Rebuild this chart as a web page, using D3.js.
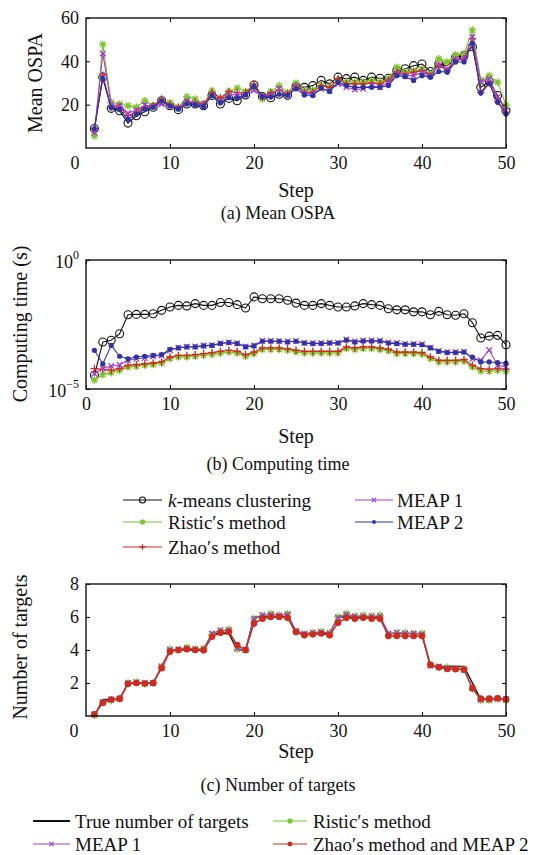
<!DOCTYPE html>
<html>
<head>
<meta charset="utf-8">
<script src="https://cdn.jsdelivr.net/npm/d3@7"></script>
<style>
  html, body { margin: 0; padding: 0; background: #fff; }
  svg text { font-family: "Liberation Serif", "Times New Roman", serif; fill: #111; }
</style>
</head>
<body>
<svg id="fig" width="556" height="855"></svg>
<script>
// ---- data -------------------------------------------------------------
const steps = [1,2,3,4,5,6,7,8,9,10,11,12,13,14,15,16,17,18,19,20,21,22,23,24,25,
               26,27,28,29,30,31,32,33,34,35,36,37,38,39,40,41,42,43,44,45,46,47,48,49,50];
const xTicks = [10, 20, 30, 40, 50];

// (a) mean OSPA
const ospaKmeans = [9.0,32.7,18.3,17.2,11.5,14.9,16.7,18.8,21.8,19.5,17.7,20.3,20.3,19.5,24.3,20.3,22.9,21.8,24.5,29.1,
  23.7,23.2,24.8,24.3,28.4,28.0,28.8,31.2,29.6,32.7,32.0,32.7,31.2,32.7,32.2,32.2,35.7,36.6,38.0,38.8,
  35.3,38.8,38.0,41.9,42.7,46.7,28.0,30.7,24.2,17.2];
const ospaRistic = [5.6,47.8,21.0,20.3,19.5,18.8,21.8,19.5,21.5,21.0,18.8,23.7,22.6,20.3,26.5,22.6,26.1,27.6,26.1,27.6,
  22.6,26.1,28.8,25.6,30.0,26.5,26.8,28.8,28.0,31.2,30.4,30.4,30.4,31.2,30.4,31.9,37.3,35.0,35.7,36.4,
  34.2,41.2,39.7,43.0,43.5,54.4,31.4,33.4,30.4,19.8];
const ospaZhao = [9.0,33.5,19.0,18.8,14.9,16.7,19.0,19.5,22.6,20.0,18.8,21.0,21.0,20.3,25.7,23.2,26.1,25.6,25.6,29.6,
  23.7,25.5,26.8,25.0,28.5,25.7,25.7,28.8,28.0,31.9,29.6,29.6,29.6,30.0,29.6,31.2,35.0,34.2,35.0,35.7,
  33.4,38.2,35.7,40.4,41.2,50.5,25.7,30.4,21.5,16.5];
const ospaMeap1 = [7.0,43.6,20.0,19.5,16.1,17.4,19.8,19.2,20.2,19.2,18.5,21.8,20.3,19.8,24.6,21.8,24.3,24.8,24.5,26.5,
  23.7,24.5,27.3,24.5,28.5,25.4,25.0,27.3,26.5,29.6,28.0,27.0,27.3,28.8,28.0,30.4,34.2,33.4,33.4,35.0,
  33.4,38.2,36.4,41.2,41.2,51.3,30.5,31.9,23.5,17.2];
const ospaMeap2 = [9.0,32.2,18.6,17.7,13.3,15.5,17.9,18.8,21.8,19.5,17.9,20.3,20.0,19.2,24.3,20.8,23.2,23.2,24.5,28.4,
  23.7,23.5,24.8,24.3,27.3,24.5,24.2,27.6,26.1,30.4,28.8,28.0,28.0,28.0,28.0,28.8,33.4,32.9,31.2,33.4,
  32.7,35.3,35.0,39.7,39.7,48.2,25.4,29.6,21.1,15.7];
const ospaTicks = [20, 40, 60];

// (b) computing time in seconds
const timeKmeans = [3.4e-5,6.6e-4,7.8e-4,1.38e-3,7.6e-3,7.8e-3,7.8e-3,8.3e-3,1.12e-2,1.51e-2,
  1.74e-2,1.66e-2,2.04e-2,1.74e-2,1.74e-2,2.24e-2,2.24e-2,1.86e-2,1.38e-2,3.72e-2,
  3.16e-2,3.16e-2,3.16e-2,2.75e-2,2.14e-2,1.74e-2,1.74e-2,2.04e-2,1.74e-2,1.51e-2,
  1.51e-2,1.66e-2,2.04e-2,1.86e-2,1.74e-2,1.29e-2,1.17e-2,1.17e-2,9.8e-3,9.8e-3,
  7.6e-3,1.02e-2,7.6e-3,7.2e-3,8.3e-3,3.7e-3,9.5e-4,1.12e-3,1.2e-3,5.2e-4];
const timeRistic = [2.2e-5,3.6e-5,4.3e-5,5.25e-5,7.1e-5,7.6e-5,8.3e-5,8.9e-5,1.0e-4,1.51e-4,
  1.74e-4,1.74e-4,1.86e-4,2.0e-4,2.2e-4,2.45e-4,2.69e-4,2.45e-4,1.86e-4,2.34e-4,
  3.4e-4,3.4e-4,3.4e-4,3.16e-4,2.75e-4,2.5e-4,2.45e-4,2.5e-4,2.45e-4,2.5e-4,
  3.7e-4,3.4e-4,3.7e-4,3.7e-4,3.4e-4,3.0e-4,2.34e-4,2.34e-4,2.34e-4,2.24e-4,
  1.51e-4,1.12e-4,1.12e-4,1.12e-4,1.2e-4,7.1e-5,5.0e-5,4.8e-5,5.25e-5,4.8e-5];
const timeZhao = [6.2e-5,5.75e-5,5.25e-5,6.2e-5,8.3e-5,8.7e-5,9.5e-5,1.02e-4,1.12e-4,1.74e-4,
  2.0e-4,2.0e-4,2.14e-4,2.34e-4,2.57e-4,2.88e-4,3.16e-4,2.88e-4,2.14e-4,2.69e-4,
  3.9e-4,3.9e-4,3.9e-4,3.63e-4,3.16e-4,2.88e-4,2.88e-4,2.88e-4,2.88e-4,2.88e-4,
  4.27e-4,3.9e-4,4.27e-4,4.27e-4,3.9e-4,3.47e-4,2.69e-4,2.69e-4,2.69e-4,2.57e-4,
  1.74e-4,1.29e-4,1.29e-4,1.29e-4,1.38e-4,8.3e-5,6.2e-5,5.75e-5,6.2e-5,5.75e-5];
const timeMeap1 = [3.9e-5,6.2e-5,7.8e-5,8.7e-5,1.29e-4,1.48e-4,1.58e-4,1.86e-4,2.0e-4,3.16e-4,
  4.0e-4,4.3e-4,4.4e-4,4.8e-4,5.0e-4,5.9e-4,6.4e-4,5.9e-4,4.4e-4,4.9e-4,
  7.4e-4,7.4e-4,7.3e-4,6.9e-4,7.3e-4,6.2e-4,6.0e-4,6.0e-4,6.2e-4,6.2e-4,
  8.3e-4,7.0e-4,7.6e-4,7.6e-4,7.5e-4,6.3e-4,6.0e-4,5.6e-4,5.6e-4,5.4e-4,
  4.0e-4,3.0e-4,2.7e-4,2.7e-4,2.8e-4,1.48e-4,1.29e-4,3.24e-4,8.3e-5,7.2e-5];
const timeMeap2 = [3.16e-4,9.5e-5,4.9e-4,1.86e-4,1.48e-4,1.74e-4,1.86e-4,2.0e-4,2.14e-4,3.47e-4,
  3.9e-4,4.27e-4,4.27e-4,4.68e-4,4.9e-4,5.75e-4,6.3e-4,5.75e-4,4.27e-4,4.68e-4,
  7.1e-4,7.1e-4,7.1e-4,6.6e-4,7.1e-4,6.0e-4,5.75e-4,5.75e-4,6.0e-4,6.0e-4,
  7.8e-4,6.6e-4,7.2e-4,7.2e-4,7.2e-4,6.0e-4,5.75e-4,5.4e-4,5.4e-4,5.2e-4,
  3.9e-4,2.88e-4,2.57e-4,2.57e-4,2.69e-4,1.74e-4,1.12e-4,1.12e-4,1.05e-4,1.02e-4];
const timeTicks = [1e-5, 1];

// (c) number of targets
const trueCount = [0,1,1,1,2,2,2,2,3,4,4,4,4,4,5,5,5,4,4,6,6,6,6,6,5,5,5,5,5,6,6,6,6,6,6,5,5,5,5,5,3,3,3,3,3,2,1,1,1,1];
const countRistic = [0.05,0.8,0.95,1.05,2.0,2.05,1.95,2.0,3.0,4.05,4.0,4.15,4.05,4.1,4.95,5.15,5.25,4.05,4.0,5.9,
  6.1,6.2,6.1,6.2,5.1,4.95,5.05,5.1,5.05,6.0,6.2,6.05,6.1,6.05,6.1,4.95,5.05,5.05,5.0,5.0,
  3.1,2.95,2.95,2.85,2.85,1.65,0.95,0.95,1.05,0.95];
const countMeap1 = [0.1,0.85,1.0,1.05,2.0,2.05,2.0,2.0,3.0,4.0,4.05,4.1,4.05,4.05,5.0,5.2,5.2,4.1,4.0,5.9,
  6.1,6.15,6.1,6.15,5.15,5.0,5.05,5.1,5.0,5.95,6.15,6.05,6.05,6.05,6.05,5.0,5.05,5.0,5.0,4.95,
  3.05,3.0,2.9,2.9,2.8,1.7,1.0,1.0,1.05,1.0];
const countZhaoMeap2 = [0.1,0.8,1.0,1.05,1.95,2.0,1.97,2.0,2.9,3.9,4.0,4.05,4.0,3.98,4.8,5.05,5.1,4.3,4.0,5.6,
  5.9,6.0,6.0,5.95,5.1,4.9,4.95,5.0,4.9,5.65,5.95,5.9,5.95,5.9,5.9,4.85,4.85,4.85,4.85,4.85,
  3.1,2.95,2.85,2.85,2.8,1.68,1.05,1.05,1.07,1.02];
const countTicks = [2, 4, 6, 8];

// ---- styles -------------------------------------------------------------
const C = { black: "#111111", green: "#7cc42a", red: "#cf2a1e", purple: "#a23fcb", blue: "#2d34a6" };
const SERIF = "Liberation Serif, Times New Roman, serif";
const FONT_TICK = 18, FONT_LABEL = 20, FONT_CAP = 18, FONT_LEG = 19;

const svg = d3.select("#fig");

// marker drawers: g is a selection of <g> already translated to the point
function drawMarker(g, kind, color, s) {
  s = s || 1;
  if (kind === "circle") {
    g.append("circle").attr("r", 4 * s).attr("fill", "none").attr("stroke", color).attr("stroke-width", 1.1);
  } else if (kind === "dot") {
    g.append("circle").attr("r", 2.6 * s).attr("fill", color).attr("stroke", "none");
  } else if (kind === "bigdot") {
    g.append("circle").attr("r", 3.3 * s).attr("fill", color).attr("stroke", "none");
  } else if (kind === "plus") {
    const r = 3.8 * s;
    g.append("path").attr("d", `M${-r},0H${r}M0,${-r}V${r}`).attr("stroke", color).attr("stroke-width", 1.3);
  } else if (kind === "x") {
    const r = 2.8 * s;
    g.append("path").attr("d", `M${-r},${-r}L${r},${r}M${-r},${r}L${r},${-r}`).attr("stroke", color).attr("stroke-width", 1.3);
  } else if (kind === "star") {
    const r = 3.8 * s, q = 2.7 * s;
    g.append("path").attr("d", `M${-r},0H${r}M0,${-r}V${r}M${-q},${-q}L${q},${q}M${-q},${q}L${q},${-q}`)
      .attr("stroke", color).attr("stroke-width", 1.3);
  }
}

function drawSeries(g, x, y, values, color, marker, lw) {
  const pts = steps.map((s, i) => [s, values[i]]);
  g.append("path")
    .attr("d", d3.line().x(d => x(d[0])).y(d => y(d[1]))(pts))
    .attr("fill", "none").attr("stroke", color).attr("stroke-width", lw || 1.1)
    .attr("stroke-linejoin", "round");
  if (marker) {
    pts.forEach(d => {
      const m = g.append("g").attr("transform", `translate(${x(d[0])},${y(d[1])})`);
      drawMarker(m, marker, color);
    });
  }
}

// frame + inward ticks on all four sides
function drawFrame(p, x, y, yTickVals, yFormat, xTickVals) {
  const g = svg.append("g");
  const inner = -4;
  const bottom = g.append("g").attr("transform", `translate(0,${p.bottom})`)
    .call(d3.axisBottom(x).tickValues(xTickVals).tickSizeInner(inner).tickSizeOuter(0).tickPadding(8).tickFormat(d3.format("d")));
  const top = g.append("g").attr("transform", `translate(0,${p.top})`)
    .call(d3.axisTop(x).tickValues(xTickVals).tickSizeInner(inner).tickSizeOuter(0).tickFormat(""));
  const left = g.append("g").attr("transform", `translate(${p.left},0)`)
    .call(d3.axisLeft(y).tickValues(yTickVals).tickSizeInner(inner).tickSizeOuter(0).tickPadding(7).tickFormat(yFormat || d3.format("d")));
  const right = g.append("g").attr("transform", `translate(${p.right},0)`)
    .call(d3.axisRight(y).tickValues(yTickVals).tickSizeInner(inner).tickSizeOuter(0).tickFormat(""));
  [bottom, top, left, right].forEach(a => {
    a.attr("font-family", SERIF).attr("font-size", FONT_TICK);
    a.select(".domain").remove();
    a.selectAll("line").attr("stroke", "#111").attr("stroke-width", 1.1);
    a.selectAll("text").attr("fill", "#111").attr("font-family", SERIF).attr("font-size", FONT_TICK);
  });
  g.append("rect").attr("x", p.left).attr("y", p.top)
    .attr("width", p.right - p.left).attr("height", p.bottom - p.top)
    .attr("fill", "none").attr("stroke", "#111").attr("stroke-width", 1.4);
}

function text(xp, yp, str, size, anchor, rot) {
  const t = svg.append("text").attr("x", xp).attr("y", yp)
    .attr("text-anchor", anchor || "middle").attr("dominant-baseline", "central")
    .attr("font-family", SERIF).attr("font-size", size).text(str);
  if (rot) t.attr("transform", `rotate(${rot},${xp},${yp})`);
  return t;
}

// ---- (a) Mean OSPA -----------------------------------------------------
const pA = { left: 86, right: 506, top: 18, bottom: 148 };
const xA = d3.scaleLinear().domain([0, 50]).range([pA.left, pA.right]);
const yA = d3.scaleLinear().domain([0, 60]).range([pA.bottom, pA.top]);
const gA = svg.append("g");
drawSeries(gA, xA, yA, ospaKmeans, C.black, "circle");
drawSeries(gA, xA, yA, ospaRistic, C.green, "star");
drawSeries(gA, xA, yA, ospaZhao, C.red, "plus");
drawSeries(gA, xA, yA, ospaMeap1, C.purple, "x");
drawSeries(gA, xA, yA, ospaMeap2, C.blue, "dot");
drawFrame(pA, xA, yA, ospaTicks, null, xTicks);
text(75, 163, "0", FONT_TICK);
text(35, 83, "Mean OSPA", FONT_LABEL, "middle", -90);
text(296, 190, "Step", FONT_LABEL);
text(278, 213, "(a) Mean OSPA", FONT_CAP);

// ---- (b) Computing time ------------------------------------------------
const pB = { left: 86, right: 506, top: 260, bottom: 389 };
const xB = d3.scaleLinear().domain([0, 50]).range([pB.left, pB.right]);
const yB = d3.scaleLog().domain([1e-5, 1]).range([pB.bottom, pB.top]);
const gB = svg.append("g");
drawSeries(gB, xB, yB, timeKmeans, C.black, "circle");
drawSeries(gB, xB, yB, timeRistic, C.green, "star");
drawSeries(gB, xB, yB, timeZhao, C.red, "plus");
drawSeries(gB, xB, yB, timeMeap1, C.purple, "x");
drawSeries(gB, xB, yB, timeMeap2, C.blue, "dot");
drawFrame(pB, xB, yB, timeTicks, () => "", [0].concat(xTicks));
// power-of-ten labels
timeTicks.forEach(v => {
  const t = svg.append("text").attr("x", pB.left - 7).attr("y", yB(v) + 2)
    .attr("text-anchor", "end").attr("dominant-baseline", "central")
    .attr("font-family", SERIF).attr("font-size", FONT_TICK);
  t.append("tspan").text("10");
  t.append("tspan").attr("dy", -7).attr("font-size", 12).text(String(Math.round(Math.log10(v))).replace("-", "\u2212"));
});
text(20, 324, "Computing time (s)", FONT_LABEL, "middle", -90);
text(296, 436, "Step", FONT_LABEL);
text(278, 464, "(b) Computing time", FONT_CAP);

// ---- legend for (a) and (b) --------------------------------------------
const legendAB = [
  { name: "k-means clustering", color: C.black, marker: "circle", col: 0, row: 0 },
  { name: "Ristic\u2032s method", color: C.green, marker: "star", col: 0, row: 1 },
  { name: "Zhao\u2032s method", color: C.red, marker: "plus", col: 0, row: 2 },
  { name: "MEAP 1", color: C.purple, marker: "x", col: 1, row: 0 },
  { name: "MEAP 2", color: C.blue, marker: "dot", col: 1, row: 1 }
];
const legRowsAB = [500, 522, 547];
const legColsAB = [{ x0: 123, x1: 162, tx: 168 }, { x0: 355, x1: 393, tx: 397 }];
legendAB.forEach(d => {
  const c = legColsAB[d.col], yy = legRowsAB[d.row];
  svg.append("line").attr("x1", c.x0).attr("x2", c.x1).attr("y1", yy).attr("y2", yy)
    .attr("stroke", d.color).attr("stroke-width", 1.2);
  const m = svg.append("g").attr("transform", `translate(${(c.x0 + c.x1) / 2},${yy})`);
  drawMarker(m, d.marker, d.color, 0.75);
  const t = svg.append("text").attr("x", c.tx).attr("y", yy).attr("dominant-baseline", "central")
    .attr("font-family", SERIF).attr("font-size", FONT_LEG);
  if (d.name.startsWith("k-")) {
    t.append("tspan").attr("font-style", "italic").text("k");
    t.append("tspan").text(d.name.slice(1));
  } else t.text(d.name);
});

// ---- (c) Number of targets --------------------------------------------
const pC = { left: 86, right: 506, top: 584, bottom: 716 };
const xC = d3.scaleLinear().domain([0, 50]).range([pC.left, pC.right]);
const yC = d3.scaleLinear().domain([0, 8]).range([pC.bottom, pC.top]);
const gC = svg.append("g");
drawSeries(gC, xC, yC, trueCount, C.black, null, 1.4);
drawSeries(gC, xC, yC, countRistic, C.green, "star");
drawSeries(gC, xC, yC, countMeap1, C.purple, "x");
drawSeries(gC, xC, yC, countZhaoMeap2, C.red, "bigdot", 1.4);
drawFrame(pC, xC, yC, countTicks, null, xTicks);
text(74, 731, "0", FONT_TICK);
text(20, 647, "Number of targets", FONT_LABEL, "middle", -90);
text(296, 751, "Step", FONT_LABEL);
text(278, 785, "(c) Number of targets", FONT_CAP);

// ---- legend for (c) ----------------------------------------------------
const legendC = [
  { name: "True number of targets", color: C.black, marker: null, col: 0, row: 0 },
  { name: "Ristic\u2032s method", color: C.green, marker: "star", col: 1, row: 0 },
  { name: "MEAP 1", color: C.purple, marker: "x", col: 0, row: 1 },
  { name: "Zhao\u2032s method and MEAP 2", color: C.red, marker: "bigdot", col: 1, row: 1 }
];
const legRowsC = [821, 844];
const legColsC = [{ x0: 33, x1: 70, tx: 75 }, { x0: 273, x1: 307, tx: 313 }];
legendC.forEach(d => {
  const c = legColsC[d.col], yy = legRowsC[d.row];
  svg.append("line").attr("x1", c.x0).attr("x2", c.x1).attr("y1", yy).attr("y2", yy)
    .attr("stroke", d.color).attr("stroke-width", d.marker ? 1.2 : 1.8);
  if (d.marker) {
    const m = svg.append("g").attr("transform", `translate(${(c.x0 + c.x1) / 2},${yy})`);
    drawMarker(m, d.marker, d.color, 0.75);
  }
  svg.append("text").attr("x", c.tx).attr("y", yy).attr("dominant-baseline", "central")
    .attr("font-family", SERIF).attr("font-size", FONT_LEG).text(d.name);
});
</script>
</body>
</html>
